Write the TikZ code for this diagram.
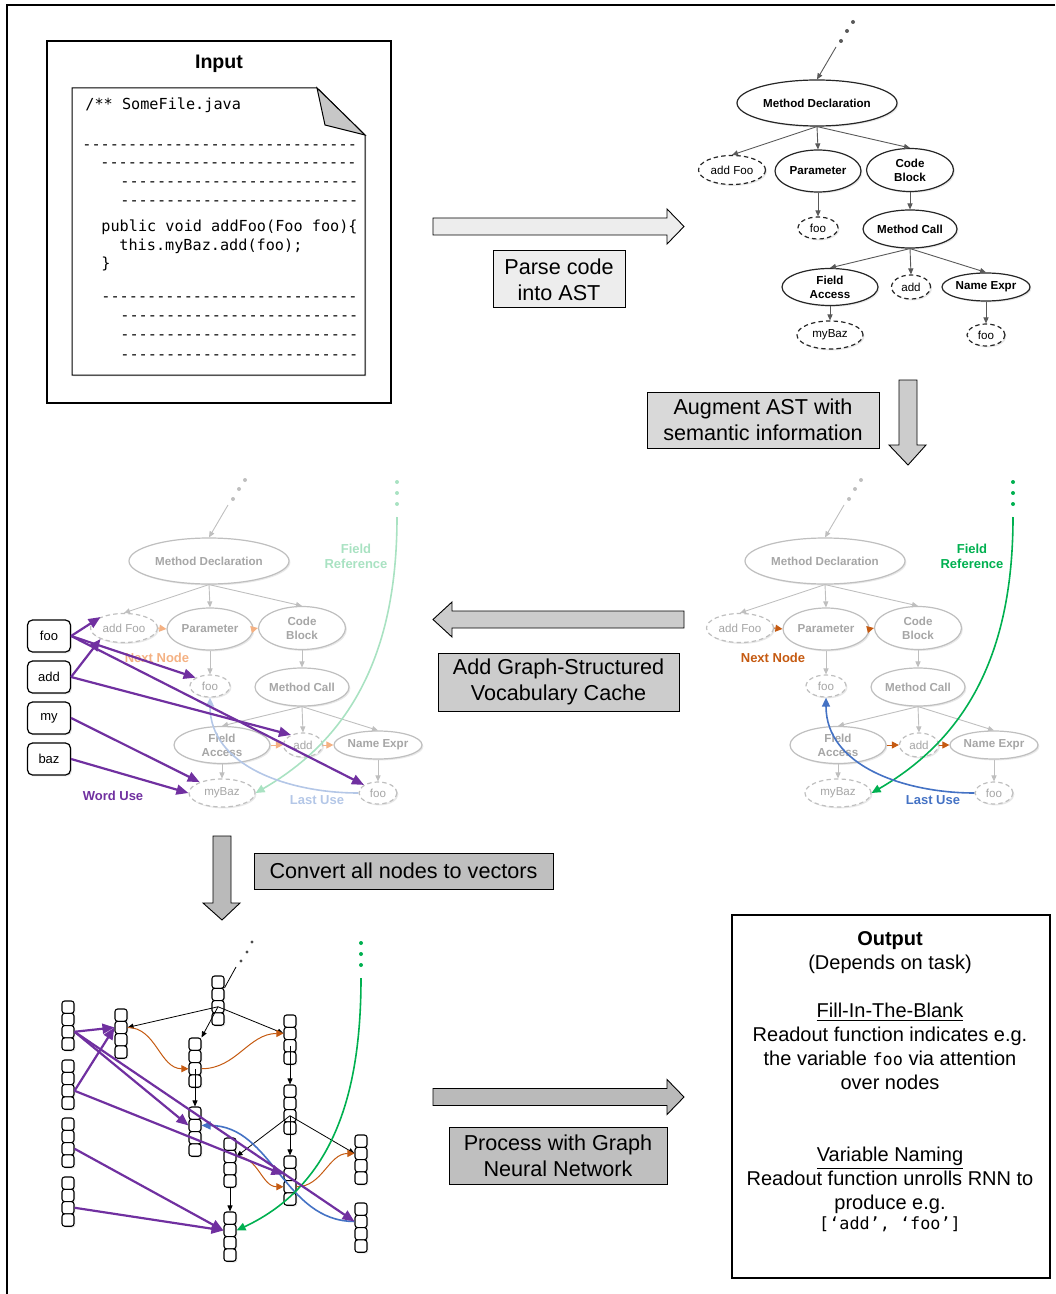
\documentclass[tikz,border=0pt]{standalone}
\usepackage{fontspec}
\setmainfont{Liberation Sans}
\setmonofont{DejaVu Sans Mono}
\usepackage{xcolor}
\usetikzlibrary{arrows.meta, shapes.geometric, shadows}

\definecolor{nextcol}{HTML}{C55A11}
\definecolor{nextfaint}{HTML}{F4B183}
\definecolor{frefcol}{HTML}{00B050}
\definecolor{freffaint}{HTML}{A9E2C2}
\definecolor{lastcol}{HTML}{4472C4}
\definecolor{lastfaint}{HTML}{B4C7E7}
\definecolor{wordcol}{HTML}{7030A0}
\colorlet{astline}{black!85}
\colorlet{asttext}{black}
\colorlet{astedgecol}{black!65}

\tikzset{
  softshadow/.style={drop shadow={shadow xshift=0.7pt, shadow yshift=-0.7pt, opacity=0.18}},
  astnode/.style={ellipse, draw=astline, fill=white, text=asttext, line width=0.6pt, inner sep=0pt,
    align=center, font=\fontsize{5.8}{7}\selectfont\bfseries, softshadow},
  astleaf/.style={astnode, dash pattern=on 2.2pt off 1.6pt, font=\fontsize{5.8}{7}\selectfont},
  astedge/.style={draw=astedgecol, line width=0.45pt, -{Triangle[length=3pt,width=2.6pt]}},
  codeline/.style={anchor=base west, inner sep=0pt, font=\ttfamily\fontsize{7.6}{9}\selectfont},
  stepbox/.style={draw, line width=0.5pt, fill=#1, inner sep=0pt, align=center,
    font=\fontsize{10.8}{13}\selectfont},
  blockarr/.style={draw, line width=0.45pt, fill=#1},
  vocab/.style={rectangle, rounded corners=2.5pt, draw, line width=0.6pt, fill=white,
    minimum width=21.5pt, minimum height=16pt, font=\fontsize{6.5}{8}\selectfont, softshadow},
  vcell/.style={rectangle, rounded corners=1.3pt, draw, line width=0.55pt, fill=white,
    minimum width=6pt, minimum height=6.15pt, inner sep=0pt, softshadow},
  lbl/.style={inner sep=0pt, align=center, font=\fontsize{6.5}{7.5}\selectfont\bfseries},
  outtxt/.style={anchor=base, inner sep=0pt, font=\fontsize{10}{12}\selectfont},
  blackedge/.style={line width=0.4pt, -{Triangle[length=3pt,width=2.5pt]}},
  wordarr/.style={draw=wordcol, line width=1.1pt, -{Triangle[length=6pt,width=5pt]}},
  nextarr/.style={draw=#1, line width=0.5pt, -{Triangle[length=3.5pt,width=3.5pt]}},
  nextarr/.default=nextcol,
  semarr/.style={draw=#1, line width=0.8pt, -{Triangle[length=4.5pt,width=4pt]}},
}

% the AST, names prefixed by #1
\newcommand{\asttree}[1]{%
  \fill[astedgecol] (841,41) circle[radius=1pt] (847,31) circle[radius=1pt] (853,22) circle[radius=1pt];
  \coordinate (#1-top) at (836,47);
  \node[astnode, minimum width=80pt, minimum height=23pt] (#1-md) at (817,103) {Method Declaration};
  \node[astleaf, minimum width=33.5pt, minimum height=14.5pt] (#1-af) at (732,170) {add Foo};
  \node[astnode, minimum width=43pt, minimum height=21pt] (#1-pa) at (818,171) {Parameter};
  \node[astnode, minimum width=43.5pt, minimum height=21.5pt] (#1-cb) at (910,170) {Code\\Block};
  \node[astleaf, minimum width=20pt, minimum height=11pt] (#1-fo) at (818,228) {foo};
  \node[astnode, minimum width=47pt, minimum height=19pt] (#1-mc) at (910,229) {Method Call};
  \node[astnode, minimum width=48pt, minimum height=18.5pt] (#1-fa) at (830,287) {Field\\Access};
  \node[astleaf, minimum width=19.5pt, minimum height=12pt] (#1-ad) at (911,287) {add};
  \node[astnode, minimum width=44pt, minimum height=14pt] (#1-ne) at (986,287) {Name Expr};
  \node[astleaf, minimum width=33pt, minimum height=14pt] (#1-mb) at (830,335) {myBaz};
  \node[astleaf, minimum width=19pt, minimum height=11pt] (#1-fn) at (986,335) {foo};
  \draw[astedge] (#1-top) -- (#1-md.north);
  \draw[astedge] (#1-md.south) -- (#1-af.north);
  \draw[astedge] (#1-md.south) -- (#1-pa.north);
  \draw[astedge] (#1-md.south) -- (#1-cb.north);
  \draw[astedge] (#1-pa.south) -- (#1-fo.north);
  \draw[astedge] (#1-cb.south) -- (#1-mc.north);
  \draw[astedge] (#1-mc.south) -- (#1-fa.north);
  \draw[astedge] (#1-mc.south) -- (#1-ad.north);
  \draw[astedge] (#1-mc.south) -- (#1-ne.north);
  \draw[astedge] (#1-fa.south) -- (#1-mb.north);
  \draw[astedge] (#1-ne.south) -- (#1-fn.north);
}

% one vector = column of 4 cells
\newcommand{\vecbox}[3]{%
  \foreach \k in {1,...,4}{
    \node[vcell] (#1-\k) at (#2,{#3+6.15+12.3*(\k-1)}) {};
  }
}

\newcommand{\dashrow}[1]{\foreach \i in {1,...,#1}{-}}

\begin{document}
\begin{tikzpicture}[x=0.5pt, y=-0.5pt]
\useasboundingbox (0,0) rectangle (1055,1294);
\draw[line width=0.8pt] (1055,5) -- (7,5) -- (7,1294);

% input
\node[draw, line width=1pt, fill=white, minimum width=172pt, minimum height=181pt, softshadow] (inbox) at (219,222) {};
\node[font=\fontsize{9.8}{12}\selectfont\bfseries] (intitle) at (219,64) {Input};
\draw[fill=white, line width=0.5pt, softshadow] (72,88) -- (317,88) -- (365,135) -- (365,375) -- (72,375) -- cycle;
\draw[fill=black!22, line width=0.5pt] (317,88) -- (325,125) -- (365,135) -- cycle;
\node[codeline] (c0) at (85,110) {/** SomeFile.java};
\node[codeline] (c1) at (82,150) {\dashrow{30}};
\node[codeline] (c2) at (100,168) {\dashrow{28}};
\node[codeline] (c3) at (120,187) {\dashrow{26}};
\node[codeline] (c4) at (120,206) {\dashrow{26}};
\node[codeline] (c5) at (101,232) {public void addFoo(Foo foo)\{};
\node[codeline] (c6) at (119,251) {this.myBaz.add(foo);};
\node[codeline] (c7) at (101,269) {\}};
\node[codeline] (c8) at (101,302) {\dashrow{28}};
\node[codeline] (c9) at (120,321) {\dashrow{26}};
\node[codeline] (c10) at (120,340) {\dashrow{26}};
\node[codeline] (c11) at (120,359) {\dashrow{26}};

% AST
\asttree{t}

% steps
\draw[blockarr=black!7] (433,218) -- (667,218) -- (667,209) -- (684,226.5) -- (667,244) -- (667,235) -- (433,235) -- cycle;
\node[stepbox=black!7, minimum width=66pt, minimum height=28.5pt] (parse) at (559,279.5) {Parse code\\into AST};
\draw[blockarr=black!20] (899,380) -- (917,380) -- (917,445) -- (926,445) -- (908,465) -- (889,445) -- (899,445) -- cycle;
\node[stepbox=black!15, minimum width=116pt, minimum height=28pt] (augment) at (763,420) {Augment AST with\\semantic information};
\draw[blockarr=black!20] (684,611) -- (452,611) -- (452,602) -- (433,619.5) -- (452,637) -- (452,628) -- (684,628) -- cycle;
\node[stepbox=black!20, minimum width=120.5pt, minimum height=29pt] (vocabstep) at (558.5,682) {Add Graph-Structured\\Vocabulary Cache};
\draw[blockarr=black!27] (213,836) -- (231,836) -- (231,903) -- (240,903) -- (222,920) -- (203,903) -- (213,903) -- cycle;
\node[stepbox=black!25, minimum width=149.5pt, minimum height=18pt] (convert) at (403.5,871) {Convert all nodes to vectors};
\draw[blockarr=black!27] (433,1088.5) -- (667,1088.5) -- (667,1079.5) -- (684,1097) -- (667,1114.5) -- (667,1105.5) -- (433,1105.5) -- cycle;
\node[stepbox=black!25, minimum width=109pt, minimum height=28.5pt] (process) at (558,1155.5) {Process with Graph\\Neural Network};

% augmented AST
\begin{scope}[shift={(8,458)}]
  \colorlet{astline}{black!25}
  \colorlet{asttext}{black!35}
  \colorlet{astedgecol}{black!25}
  \asttree{r}
\end{scope}
\draw[nextarr] (r-af.east) -- (r-pa.west);
\draw[nextarr] (r-pa.east) -- (r-cb.west);
\draw[nextarr] (r-fa.east) -- (r-ad.west);
\draw[nextarr] (r-ad.east) -- (r-ne.west);
\node[lbl, text=nextcol] (r-nextlbl) at (773,658) {Next Node};
\fill[frefcol] (1013,482) circle[radius=1pt] (1013,493) circle[radius=1pt] (1013,504) circle[radius=1pt];
\coordinate (r-fref) at (1013,517);
\draw[semarr=frefcol] (r-fref) to[out=-90, in=30] (r-mb.east);
\node[lbl, text=frefcol] (r-freflbl) at (972,556) {Field\\Reference};
\draw[semarr=lastcol] (r-fn.west) to[out=180, in=-90] (r-fo.south);
\node[lbl, text=lastcol] (r-lastlbl) at (933,800) {Last Use};

% AST with vocabulary cache
\begin{scope}[shift={(-608,458)}]
  \colorlet{astline}{black!25}
  \colorlet{asttext}{black!35}
  \colorlet{astedgecol}{black!25}
  \asttree{l}
\end{scope}
\draw[nextarr=nextfaint] (l-af.east) -- (l-pa.west);
\draw[nextarr=nextfaint] (l-pa.east) -- (l-cb.west);
\draw[nextarr=nextfaint] (l-fa.east) -- (l-ad.west);
\draw[nextarr=nextfaint] (l-ad.east) -- (l-ne.west);
\node[lbl, text=nextfaint] (l-nextlbl) at (157,658) {Next Node};
\fill[freffaint] (397,482) circle[radius=1pt] (397,493) circle[radius=1pt] (397,504) circle[radius=1pt];
\coordinate (l-fref) at (397,517);
\draw[semarr=freffaint] (l-fref) to[out=-90, in=30] (l-mb.east);
\node[lbl, text=freffaint] (l-freflbl) at (356,556) {Field\\Reference};
\draw[semarr=lastfaint] (l-fn.west) to[out=180, in=-90] (l-fo.south);
\node[lbl, text=lastfaint] (l-lastlbl) at (317,800) {Last Use};
\node[vocab] (vfoo) at (49,636) {foo};
\node[vocab] (vadd) at (49,677) {add};
\node[vocab] (vmy) at (49,718) {my};
\node[vocab] (vbaz) at (49,759) {baz};
\draw[wordarr] (vfoo.east) -- (l-af.155);
\draw[wordarr] (vfoo.east) -- (l-fo.150);
\draw[wordarr] (vfoo.east) -- (l-fn.150);
\draw[wordarr] (vadd.east) -- (l-af.205);
\draw[wordarr] (vadd.east) -- (l-ad.140);
\draw[wordarr] (vmy.east) -- (l-mb.154);
\draw[wordarr] (vbaz.east) -- (l-mb.180);
\node[lbl, text=wordcol] (wordlbl) at (113,796) {Word Use};

% graph of vectors
\vecbox{v1}{68}{1001}
\vecbox{v2}{68}{1060}
\vecbox{v3}{68}{1118}
\vecbox{v4}{68}{1177}
\vecbox{af}{121}{1009}
\vecbox{md}{218}{976}
\vecbox{pa}{195}{1038}
\vecbox{cb}{290}{1015}
\vecbox{fo}{195}{1107}
\vecbox{mc}{290}{1085}
\vecbox{fa}{230}{1138}
\vecbox{ad}{290}{1156}
\vecbox{ne}{361}{1135}
\vecbox{mb}{230}{1212}
\vecbox{fn}{361}{1203}
\fill[black!70] (241,961) circle[radius=0.8pt] (247,952) circle[radius=0.8pt] (252,942) circle[radius=0.8pt];
\coordinate (gtop) at (236,967);
\draw[line width=0.4pt] (gtop) -- (md-2.north east);
\draw[blackedge] (md-3.center) -- (af-2.east);
\draw[blackedge] (md-3.center) -- (pa-1.north east);
\draw[blackedge] (md-3.center) -- (cb-2.west);
\draw[blackedge] (pa-3.center) -- (fo-1.north);
\draw[blackedge] (cb-3.center) -- (mc-1.north);
\draw[blackedge] (mc-3.center) -- (fa-2.east);
\draw[blackedge] (mc-3.center) -- (ad-1.north);
\draw[blackedge] (mc-3.center) -- (ne-2.west);
\draw[blackedge] (fa-4.south) -- (mb-1.north);
\draw[nextarr] (af-2.east) to[out=0, in=180] (pa-3.west);
\draw[nextarr] (pa-3.east) to[out=0, in=180] (cb-2.west);
\draw[nextarr] (fa-2.east) to[out=0, in=180] (ad-3.west);
\draw[nextarr] (ad-3.east) to[out=0, in=180] (ne-2.west);
\draw[semarr=lastcol] (fn-2.west) to[out=180, in=0] (fo-2.east);
\fill[frefcol] (361,943) circle[radius=1pt] (361,954) circle[radius=1pt] (361,965) circle[radius=1pt];
\coordinate (gfref) at (361,978);
\draw[semarr=frefcol] (gfref) to[out=-90, in=25] (mb-2.east);
\draw[wordarr] (v1-3.east) -- (af-2.west);
\draw[wordarr] (v1-3.east) -- (fo-2.west);
\draw[wordarr] (v1-3.east) -- (fn-2.west);
\draw[wordarr] (v2-3.east) -- (af-2.west);
\draw[wordarr] (v2-3.east) -- (ad-2.west);
\draw[wordarr] (v3-3.east) -- (mb-2.west);
\draw[wordarr] (v4-3.east) -- (mb-2.west);

% output
\node[draw, line width=1pt, minimum width=159pt, minimum height=181.5pt] (outbox) at (891,1096.5) {};
\node[outtxt] (o1) at (890,945) {\bfseries Output};
\node[outtxt] (o2) at (890,969) {(Depends on task)};
\node[outtxt] (o3) at (890,1017) {\underline{Fill-In-The-Blank}};
\node[outtxt] (o4) at (890,1041) {Readout function indicates e.g.};
\node[outtxt] (o5) at (890,1065) {the variable {\ttfamily\fontsize{8.4}{10}\selectfont foo} via attention};
\node[outtxt] (o6) at (890,1089) {over nodes};
\node[outtxt] (o7) at (890,1161) {\underline{Variable Naming}};
\node[outtxt] (o8) at (890,1185) {Readout function unrolls RNN to};
\node[outtxt] (o9) at (890,1209) {produce e.g.};
\node[outtxt] (o10) at (890,1229) {\ttfamily\fontsize{8.4}{10}\selectfont [‘add’, ‘foo’]};
\end{tikzpicture}
\end{document}
